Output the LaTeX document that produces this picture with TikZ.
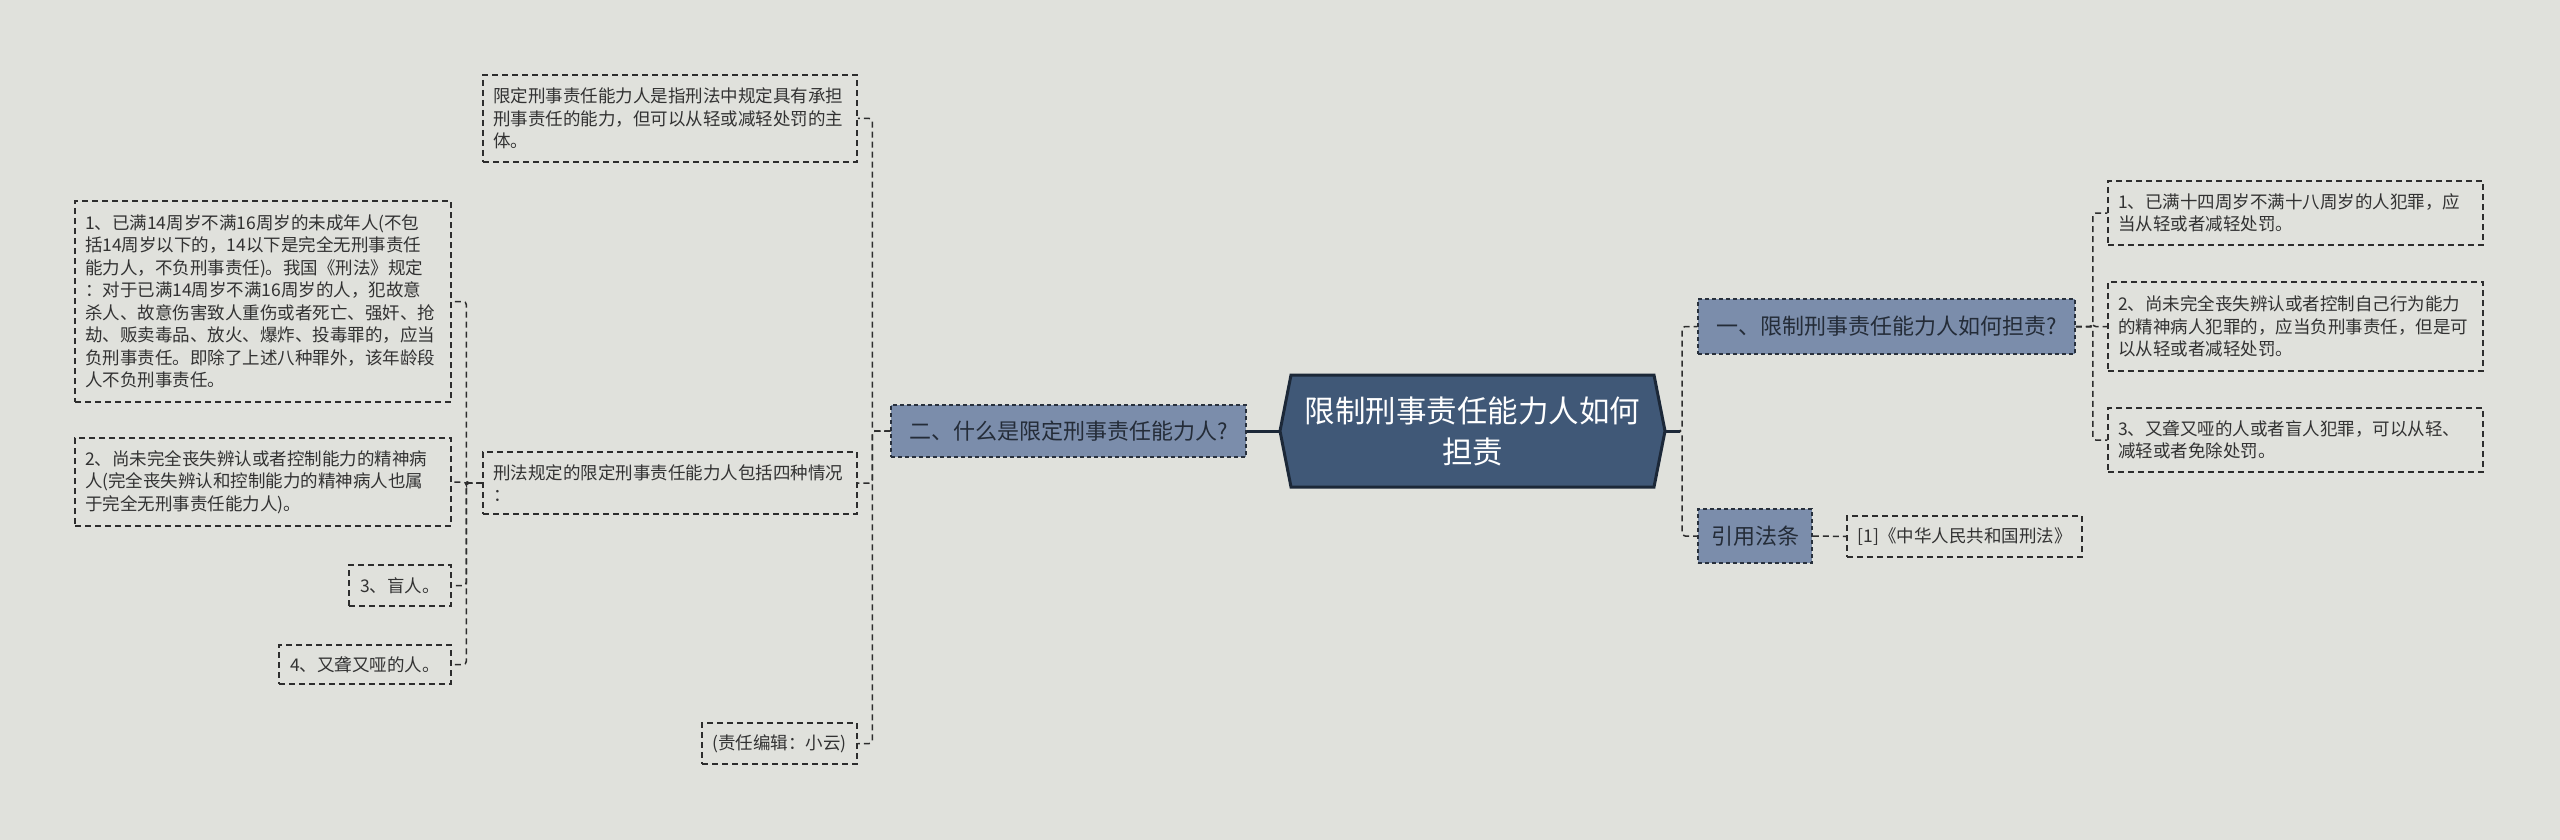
\documentclass[tikz,border=0pt]{standalone}
\usepackage{fontspec}
\setmainfont{Noto Sans CJK SC}
\definecolor{bgc}{RGB}{224,225,220}
\definecolor{rootfill}{RGB}{64,88,119}
\definecolor{rootline}{RGB}{28,40,56}
\definecolor{secfill}{RGB}{123,141,171}
\definecolor{secline}{RGB}{40,48,60}
\definecolor{sectext}{RGB}{36,44,56}
\definecolor{lc}{RGB}{45,45,45}
\definecolor{tc}{RGB}{50,50,50}
\newcommand{\leaffont}{\fontsize{17.5}{22.5}\selectfont}
\newcommand{\secfont}{\fontsize{22}{27}\selectfont}
\newcommand{\rootfont}{\fontsize{30.5}{41}\selectfont}
\tikzset{
  leaf/.style={draw=lc, line width=1.5pt, dash pattern=on 6pt off 4pt, text=tc, font=\leaffont, inner xsep=10pt, inner ysep=0pt, align=left},
  sec/.style={fill=secfill, draw=secline, line width=1.5pt, dash pattern=on 4pt off 3pt, text=sectext, font=\secfont, inner sep=0pt, align=center},
  conn/.style={draw=lc, line width=1.5pt, dash pattern=on 6pt off 4pt, rounded corners=3pt},
  solidc/.style={draw=rootline, line width=3pt},
}
\begin{document}
\begin{tikzpicture}[x=1pt,y=-1pt]
\fill[bgc] (0,0) rectangle (2560,840);
\useasboundingbox (0,0) rectangle (2560,840);

% root hexagon
\filldraw[fill=rootfill, draw=rootline, line width=3pt, line join=miter]
  (1280,431) -- (1291,375) -- (1654,375) -- (1665,431) -- (1654,487) -- (1291,487) -- cycle;
\node[font=\rootfont, text=white, align=center, minimum width=385pt, minimum height=112pt, inner sep=0pt] (root) at (1472.5,431) {限制刑事责任能力人如何\\担责};

% second level
\node[sec, minimum width=355pt, minimum height=52pt] (er) at (1068.5,431) {二、什么是限定刑事责任能力人?};
\node[sec, minimum width=377pt, minimum height=55pt] (yi) at (1886.5,326.5) {一、限制刑事责任能力人如何担责?};
\node[sec, minimum width=114pt, minimum height=54pt] (law) at (1755,536) {引用法条};

% left subtree
\node[leaf, text width=354pt, minimum height=87pt] (top) at (670,118.5) {限定刑事责任能力人是指刑法中规定具有承担\\刑事责任的能力，但可以从轻或减轻处罚的主\\体。};
\node[leaf, text width=354pt, minimum height=62pt] (mid) at (670,483) {刑法规定的限定刑事责任能力人包括四种情况\\：};
\node[leaf, minimum width=155pt, minimum height=41pt, align=center] (edit) at (779.5,743.5) {(责任编辑：小云)};

\node[leaf, text width=356pt, minimum height=201pt] (l1) at (263,301.5) {1、已满14周岁不满16周岁的未成年人(不包\\括14周岁以下的，14以下是完全无刑事责任\\能力人，不负刑事责任)。我国《刑法》规定\\：对于已满14周岁不满16周岁的人，犯故意\\杀人、故意伤害致人重伤或者死亡、强奸、抢\\劫、贩卖毒品、放火、爆炸、投毒罪的，应当\\负刑事责任。即除了上述八种罪外，该年龄段\\人不负刑事责任。};
\node[leaf, text width=356pt, minimum height=88pt] (l2) at (263,482) {2、尚未完全丧失辨认或者控制能力的精神病\\人(完全丧失辨认和控制能力的精神病人也属\\于完全无刑事责任能力人)。};
\node[leaf, minimum width=102pt, minimum height=41pt, align=center] (l3) at (400,585.5) {3、盲人。};
\node[leaf, minimum width=172pt, minimum height=39pt, align=center] (l4) at (365,664.5) {4、又聋又哑的人。};

% right subtree
\node[leaf, text width=355pt, minimum height=64pt] (r1) at (2295.5,213) {1、已满十四周岁不满十八周岁的人犯罪，应\\当从轻或者减轻处罚。};
\node[leaf, text width=355pt, minimum height=89pt] (r2) at (2295.5,326.5) {2、尚未完全丧失辨认或者控制自己行为能力\\的精神病人犯罪的，应当负刑事责任，但是可\\以从轻或者减轻处罚。};
\node[leaf, text width=355pt, minimum height=64pt] (r3) at (2295.5,440) {3、又聋又哑的人或者盲人犯罪，可以从轻、\\减轻或者免除处罚。};
\node[leaf, minimum width=235pt, minimum height=41pt, align=center] (cite) at (1964.5,536.5) {[1]《中华人民共和国刑法》};

% connectors
\draw[solidc] (root.west) -- (er.east);
\draw[conn] (root.east) -- ++(17,0) |- (yi.west);
\draw[conn] (root.east) -- ++(17,0) |- (law.west);
\draw[solidc] (root.east) -- ++(15,0);

\draw[conn] (er.west) -- ++(-18,0) |- (top.east);
\draw[conn] (er.west) -- ++(-18,0) |- (mid.east);
\draw[conn] (er.west) -- ++(-18,0) |- (edit.east);

\draw[conn] (mid.west) -- ++(-16,0) |- (l1.east);
\draw[conn] (mid.west) -- ++(-16,0) |- (l2.east);
\draw[conn] (mid.west) -- ++(-16,0) |- (l3.east);
\draw[conn] (mid.west) -- ++(-16,0) |- (l4.east);

\draw[conn] (yi.east) -- ++(17,0) |- (r1.west);
\draw[conn] (yi.east) -- ++(17,0) |- (r2.west);
\draw[conn] (yi.east) -- ++(17,0) |- (r3.west);

\draw[conn] (law.east) -- (cite.west);
\end{tikzpicture}
\end{document}
